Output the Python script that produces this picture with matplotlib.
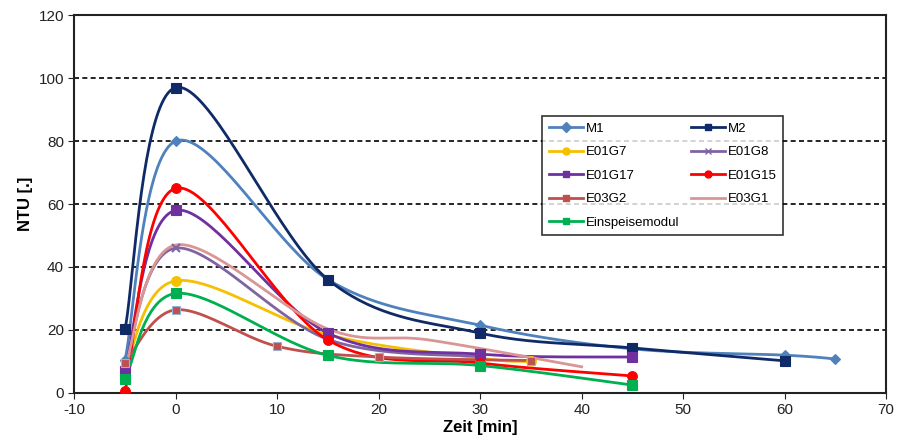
import numpy as np
import matplotlib
matplotlib.use("Agg")
import matplotlib.pyplot as plt

plt.rcParams['font.family'] = ['Liberation Sans', 'DejaVu Sans']
plt.rcParams['axes.unicode_minus'] = False

# Daten
m1_x = [-5, 0, 15, 30, 45, 60, 65]
m1_y = [10.5, 80, 36, 21.5, 14, 12, 10.8]
m2_x = [-5, 0, 15, 30, 45, 60]
m2_y = [20.3, 97, 36, 19, 14.3, 10.2]
g7_x = [-5, 0, 15, 30, 35]
g7_y = [8, 35.6, 18.5, 11, 10]
g8_x = [-5, 0, 15, 30]
g8_y = [9, 46, 17, 11.5]
g17_x = [-5, 0, 15, 30, 45]
g17_y = [7, 58, 19, 12.3, 11.4]
g15_x = [-5, 0, 15, 30, 45]
g15_y = [0.6, 65, 16.8, 9.5, 5.4]
e3g2_x = [-5, 0, 10, 20, 35]
e3g2_y = [9.5, 26.4, 14.8, 11.4, 10.3]
e3g1_x = [-5, 0, 15, 25, 40]
e3g1_y = [8, 47, 20.3, 16.8, 8.3]
einsp_x = [-5, 0, 15, 30, 45]
einsp_y = [4.3, 31.6, 11.9, 8.7, 2.5]


def smooth(x, y, n=40):
    # Catmull-Rom wie Excel "geglättete Linie"
    p = np.column_stack([x, y]).astype(float)
    out = []
    for i in range(len(p) - 1):
        p0 = p[i - 1] if i > 0 else p[i]
        p1 = p[i]
        p2 = p[i + 1]
        p3 = p[i + 2] if i + 2 < len(p) else p[i + 1]
        c1 = p1 + (p2 - p0) / 6
        c2 = p2 - (p3 - p1) / 6
        t = np.linspace(0, 1, n)[:, None]
        seg = (1 - t) ** 3 * p1 + 3 * (1 - t) ** 2 * t * c1 + 3 * (1 - t) * t ** 2 * c2 + t ** 3 * p2
        out.append(seg if i == 0 else seg[1:])
    s = np.vstack(out)
    return s[:, 0], s[:, 1]


series = [
    ("M1", m1_x, m1_y, "#4F81BD", "D", 5),
    ("M2", m2_x, m2_y, "#0F2A66", "s", 7),
    ("E01G7", g7_x, g7_y, "#F5C000", "o", 7),
    ("E01G8", g8_x, g8_y, "#8064A2", "x", 6),
    ("E01G17", g17_x, g17_y, "#7030A0", "s", 7),
    ("E01G15", g15_x, g15_y, "#FF0000", "o", 7),
    ("E03G2", e3g2_x, e3g2_y, "#C0504D", "s", 6),
    ("E03G1", e3g1_x, e3g1_y, "#D99694", "", 0),
    ("Einspeisemodul", einsp_x, einsp_y, "#00B050", "s", 7),
]

fig = plt.figure(figsize=(9.06, 4.45), dpi=100)
ax = fig.add_axes([0.082, 0.117, 0.896, 0.849])

handles = []
for name, x, y, col, mk, ms in series:
    sx, sy = smooth(x, y)
    ax.plot(sx, sy, color=col, lw=2, zorder=3)
    if mk:
        ax.plot(x, y, ls="none", marker=mk, color=col, ms=ms,
                mec="#95B3D7" if col == "#C0504D" else col,
                mew=1.5 if mk == "x" else 0.8, zorder=4)
    h, = ax.plot([], [], color=col, lw=2, marker=mk if mk else None, ms=5, label=name)
    handles.append(h)

# Legende zeilenweise wie in Excel
order = [0, 2, 4, 6, 8, 1, 3, 5, 7]
handles = [handles[i] for i in order]

ax.set_xlim(-10, 70)
ax.set_ylim(0, 120)
ax.set_xticks(range(-10, 71, 10))
ax.set_yticks(range(0, 121, 20))
ax.tick_params(direction="out", length=4, labelsize=11, colors="#222222")
for y in range(20, 101, 20):
    ax.axhline(y, color="black", ls=(0, (3, 2)), lw=1.2, zorder=1)
for s in ax.spines.values():
    s.set_color("#222222")
    s.set_linewidth(1.5)

ax.set_xlabel("Zeit [min]", fontsize=12, fontweight="bold", labelpad=2)
ax.set_ylabel("NTU [.]", fontsize=12, fontweight="bold")

leg = ax.legend(handles=handles, ncol=2, loc="upper left", bbox_to_anchor=(0.568, 0.75), fontsize=9.5,
                frameon=True, fancybox=False, edgecolor="black", handlelength=2.6,
                handletextpad=0.2, columnspacing=0.9, labelspacing=0.85, borderpad=0.5)
leg.get_frame().set_linewidth(1.2)

fig.savefig("out.png", dpi=100)
